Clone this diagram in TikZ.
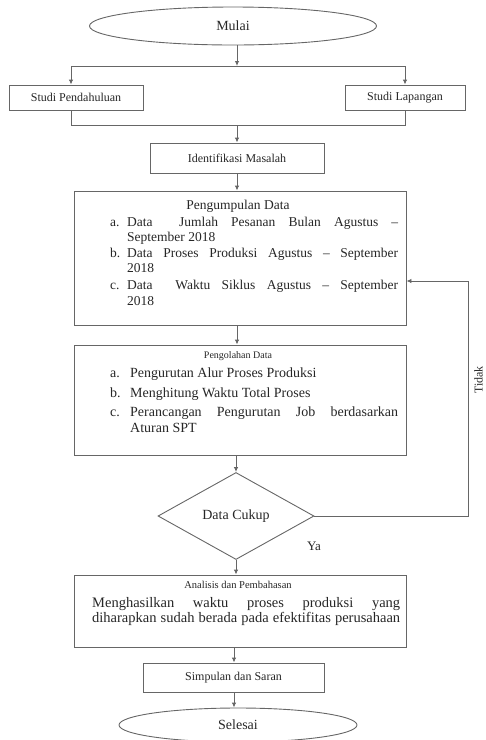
\documentclass[tikz,border=0pt]{standalone}
\usepackage{fontspec}
\setmainfont{Liberation Serif}
\usetikzlibrary{shapes.geometric,arrows.meta}
\newcommand{\fs}[1]{\fontsize{#1}{#1}\selectfont}
\begin{document}
\begin{tikzpicture}[x=1pt,y=-1pt,
  line/.style={draw=black!60,line width=0.9pt},
  arr/.style={line,-{Latex[length=5pt,width=4.5pt]}},
  boxn/.style={draw=black!60,line width=0.9pt,rectangle,inner sep=0pt,text=black!85},
  ell/.style={draw=black!60,line width=0.9pt,ellipse,inner sep=0pt,text=black!85},
  txt/.style={inner sep=0pt,text=black!85,anchor=base west},
  ttl/.style={inner sep=0pt,text=black!85,anchor=base},
]
\path[use as bounding box] (0,0) rectangle (486,740);
% nodes
\node[ell,minimum width=287pt,minimum height=38pt,font=\fs{14}] (mulai) at (233,26) {Mulai};
\node[boxn,minimum width=134pt,minimum height=25pt,font=\fs{12}] (sp) at (76,97.5) {Studi Pendahuluan};
\node[boxn,minimum width=120pt,minimum height=25pt,font=\fs{12}] (sl) at (405,97.5) {Studi Lapangan};
\node[boxn,minimum width=174pt,minimum height=30pt,font=\fs{12}] (id) at (237,158) {Identifikasi Masalah};
\node[boxn,minimum width=332pt,minimum height=134pt] (pk) at (240,258) {};
\node[boxn,minimum width=332pt,minimum height=110pt] (po) at (240,400) {};
\node[draw=black!60,line width=0.9pt,diamond,inner sep=0pt,minimum width=156pt,minimum height=87pt,font=\fs{14},text=black!85] (dc) at (236,516) {Data Cukup};
\node[boxn,minimum width=332pt,minimum height=72pt] (an) at (240,611) {};
\node[boxn,minimum width=181pt,minimum height=29pt,font=\fs{12}] (sm) at (233.5,677.5) {Simpulan dan Saran};
\node[ell,minimum width=238pt,minimum height=34pt,font=\fs{14}] (se) at (238,725) {Selesai};
\node[inner sep=0pt,font=\fs{13},text=black!85] (ya) at (314,546) {Ya};
\node[inner sep=0pt,font=\fs{12},text=black!85,rotate=90] (tidak) at (478.5,380) {Tidak};
% texts in Pengumpulan Data
\begin{scope}[font=\fs{13.5}]
\node[ttl] (pkh) at (238,209) {Pengumpulan Data};
\node[txt] (pka) at (110,226) {a.};
\node[txt] (pka1) at (127,226) {\makebox[271pt][s]{Data\ \ Jumlah Pesanan Bulan Agustus –}};
\node[txt] (pka2) at (127,241) {September 2018};
\node[txt] (pkb) at (110,257) {b.};
\node[txt] (pkb1) at (127,257) {\makebox[271pt][s]{Data Proses Produksi Agustus – September}};
\node[txt] (pkb2) at (127,272) {2018};
\node[txt] (pkc) at (110,289) {c.};
\node[txt] (pkc1) at (127,289) {\makebox[271pt][s]{Data\ \ Waktu Siklus Agustus – September}};
\node[txt] (pkc2) at (127,305) {2018};
\end{scope}
% texts in Pengolahan Data
\node[ttl,font=\fs{10}] (poh) at (238,358) {Pengolahan Data};
\begin{scope}[font=\fs{14}]
\node[txt] (poa) at (110,377) {a.};
\node[txt] (poa1) at (130,377) {Pengurutan Alur Proses Produksi};
\node[txt] (pob) at (110,397) {b.};
\node[txt] (pob1) at (130,397) {Menghitung Waktu Total Proses};
\node[txt] (poc) at (110,416) {c.};
\node[txt] (poc1) at (130,416) {\makebox[268pt][s]{Perancangan Pengurutan Job berdasarkan}};
\node[txt] (poc2) at (130,432) {Aturan SPT};
\end{scope}
% texts in Analisis
\node[ttl,font=\fs{10.5}] (anh) at (238,588) {Analisis dan Pembahasan};
\begin{scope}[font=\fs{14.5}]
\node[txt] (an1) at (92,607) {\makebox[308pt][s]{Menghasilkan waktu proses produksi yang}};
\node[txt] (an2) at (92,622) {\makebox[308pt][s]{diharapkan sudah berada pada efektifitas perusahaan}};
\end{scope}
% coordinates
\coordinate (L1) at (71,66);
\coordinate (R1) at (405,66);
\coordinate (L2) at (71,125);
\coordinate (R2) at (405,125);
\coordinate (S) at (237,0);
\coordinate (S2) at (234,0);
\coordinate (FB1) at (468,516);
\coordinate (FB2) at (468,281);
% connectors
\draw[arr] (mulai.south -| S) -- (S |- L1);
\draw[line] (L1) -- (R1);
\draw[arr] (L1) -- (L1 |- sp.north);
\draw[arr] (R1) -- (R1 |- sl.north);
\draw[line] (L1 |- sp.south) -- (L2) -- (R2) -- (R2 |- sl.south);
\draw[arr] (S |- L2) -- (S |- id.north);
\draw[arr] (S |- id.south) -- (S |- pk.north);
\draw[arr] (S |- pk.south) -- (S |- po.north);
\draw[arr] (dc.north |- po.south) -- (dc.north);
\draw[arr] (dc.east) -- (FB1) -- (FB2) -- (pk.east |- FB2);
\draw[arr] (dc.south) -- (dc.south |- an.north);
\draw[arr] (S2 |- an.south) -- (S2 |- sm.north);
\draw[arr] (S2 |- sm.south) -- (S2 |- se.north);
\end{tikzpicture}
\end{document}
